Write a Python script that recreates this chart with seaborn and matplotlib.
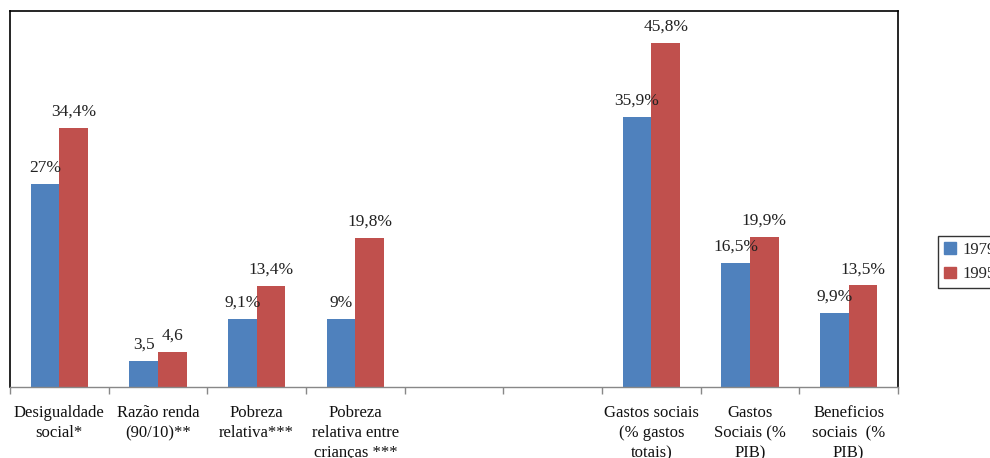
import numpy as np
import pandas as pd
import matplotlib
matplotlib.use("Agg")
import matplotlib.pyplot as plt
import seaborn as sns

sns.set_theme(style="white")
plt.rcParams["font.family"] = ["Liberation Serif", "DejaVu Serif"]

# Indicators (two blank slots separate the inequality and spending groups)
categories = [
    "Desigualdade\nsocial*",
    "Razão renda\n(90/10)**",
    "Pobreza\nrelativa***",
    "Pobreza\nrelativa entre\ncrianças ***",
    " ",
    "  ",
    "Gastos sociais\n(% gastos\ntotais)",
    "Gastos\nSociais (%\nPIB)",
    "Beneficios\nsociais  (%\nPIB)",
]
years = ["1979", "1995"]
values_1979 = [27.0, 3.5, 9.1, 9.0, np.nan, np.nan, 35.9, 16.5, 9.9]
values_1995 = [34.4, 4.6, 13.4, 19.8, np.nan, np.nan, 45.8, 19.9, 13.5]
labels_1979 = ["27%", "3,5", "9,1%", "9%", "", "", "35,9%", "16,5%", "9,9%"]
labels_1995 = ["34,4%", "4,6", "13,4%", "19,8%", "", "", "45,8%", "19,9%", "13,5%"]

df = pd.DataFrame({
    "categoria": categories * 2,
    "ano": [years[0]] * len(categories) + [years[1]] * len(categories),
    "valor": values_1979 + values_1995,
})

palette = {"1979": "#4F81BD", "1995": "#C0504D"}

fig = plt.figure(figsize=(9.9, 4.58), dpi=100)
ax = fig.add_axes([10 / 990, 1 - 387 / 458, 888 / 990, 376 / 458])

sns.barplot(data=df, x="categoria", y="valor", hue="ano", order=categories,
            hue_order=years, palette=palette, width=0.58, errorbar=None,
            saturation=1, linewidth=0, ax=ax, legend=False)

# value labels above each bar, centred on the bar; the category slot is
# recovered from the bar's position on the categorical axis
for container, labs in zip(ax.containers, [labels_1979, labels_1995]):
    for bar in container.patches:
        if bar is None or not np.isfinite(bar.get_height()):
            continue
        xc = bar.get_x() + bar.get_width() / 2
        lab = labs[int(round(xc))]
        if not lab:
            continue
        ax.annotate(lab, (xc, bar.get_height()),
                    xytext=(0, 6), textcoords="offset points",
                    ha="center", va="bottom", fontsize=12.5, color="#222222")

ax.set_ylim(0, 50)
ax.set_xlim(-0.5, len(categories) - 0.5)
ax.set_xlabel("")
ax.set_ylabel("")
ax.set_yticks([])

# labels at the category centres, tick marks at the boundaries
ax.set_xticks(range(len(categories)))
ax.set_xticklabels(categories, fontsize=12, linespacing=1.35, color="#111111")
ax.tick_params(axis="x", which="major", length=0, pad=13)
ax.set_xticks(np.arange(-0.5, len(categories), 1.0), minor=True)
ax.tick_params(axis="x", which="minor", bottom=True, length=5, width=1,
               color="#888888", direction="out")

for side in ["top", "right", "left"]:
    ax.spines[side].set_color("black")
    ax.spines[side].set_linewidth(1.2)
ax.spines["bottom"].set_color("#888888")
ax.spines["bottom"].set_linewidth(1)

handles = [plt.Rectangle((0, 0), 1, 1, color=palette[y]) for y in years]
leg = fig.legend(handles, years, loc="upper left",
                 bbox_to_anchor=(938 / 990, 1 - 236 / 458),
                 fontsize=12, frameon=True, fancybox=False,
                 handlelength=0.7, handleheight=0.7, handletextpad=0.4,
                 borderpad=0.35, labelspacing=0.5, borderaxespad=0)
leg.get_frame().set_edgecolor("black")
leg.get_frame().set_linewidth(1)

fig.savefig("out.png", dpi=100)
